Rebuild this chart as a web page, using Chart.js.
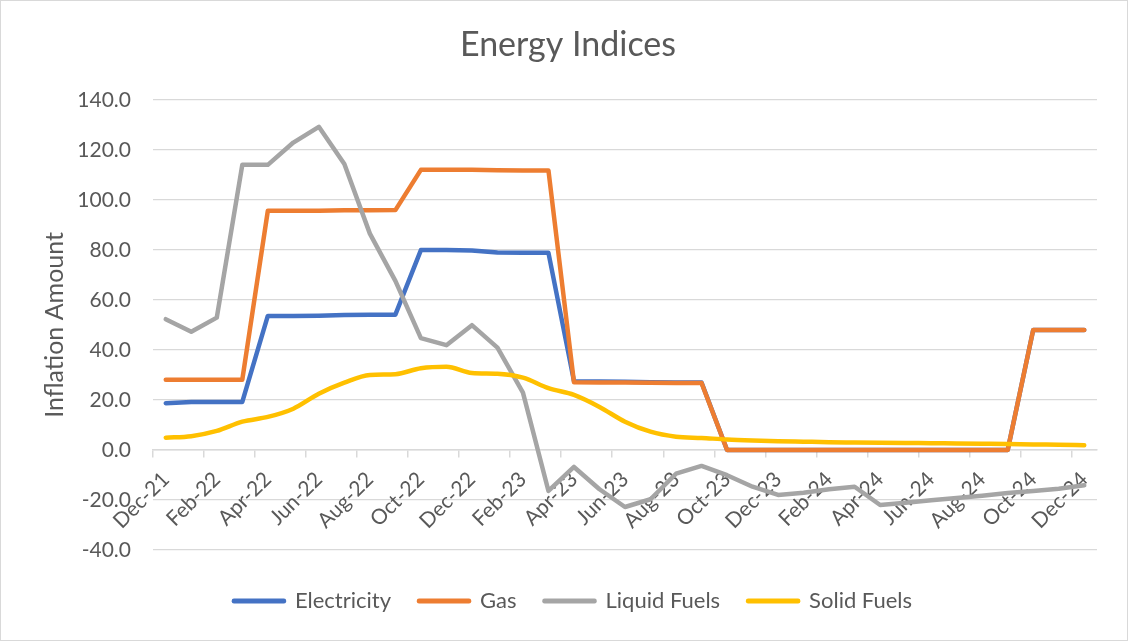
<!DOCTYPE html>
<html><head><meta charset="utf-8">
<script src="https://cdn.jsdelivr.net/npm/chart.js@4"></script>
<style>
html,body{margin:0;padding:0;background:#fff;}
#wrap{width:1128px;height:641px;box-sizing:border-box;border:1px solid #d9d9d9;background:#fff;}
canvas{display:block;}
</style></head><body>
<div id="wrap"><canvas id="c" width="1126" height="639"></canvas></div>
<script>
const months = ["Dec-21","Jan-22","Feb-22","Mar-22","Apr-22","May-22","Jun-22","Jul-22","Aug-22","Sep-22","Oct-22","Nov-22",
  "Dec-22","Jan-23","Feb-23","Mar-23","Apr-23","May-23","Jun-23","Jul-23","Aug-23","Sep-23","Oct-23","Nov-23",
  "Dec-23","Jan-24","Feb-24","Mar-24","Apr-24","May-24","Jun-24","Jul-24","Aug-24","Sep-24","Oct-24","Nov-24","Dec-24"];
const electricity = [18.7,19.2,19.2,19.2,53.6,53.6,53.7,54.0,54.1,54.1,79.9,79.9,79.7,78.9,78.8,78.8,
  27.5,27.4,27.3,27.1,27.0,27.0,0,0,0,0,0,0,0,0,0,0,0,0,48.0,48.0,48.0];
const gas = [28.1,28.1,28.1,28.1,95.6,95.6,95.6,95.8,95.8,95.9,112.0,112.0,112.0,111.8,111.7,111.7,
  27.1,27.0,27.0,26.9,26.8,26.8,0,0,0,0,0,0,0,0,0,0,0,0,48.0,48.0,48.0];
const liquidFuels = [52.3,47.3,52.9,114.0,114.0,122.9,129.2,114.3,86.5,67.6,44.7,41.9,49.9,40.9,22.9,-16.4,
  -6.8,-15.7,-22.8,-19.7,-9.5,-6.4,-10.1,-14.7,-18.0,-17.1,-15.7,-14.7,-22.0,-21.1,-20.1,-19.2,-18.3,-17.2,-16.4,-15.5,-14.1];
const solidFuels = [4.9,5.5,7.6,11.3,13.2,16.5,22.5,26.9,30.0,30.3,32.7,33.3,30.8,30.5,28.9,24.7,
  22.0,17.2,11.3,7.3,5.3,4.8,4.2,3.8,3.5,3.3,3.1,3.0,2.9,2.8,2.7,2.6,2.5,2.4,2.2,2.1,1.9];
const yMin = -40, yMax = 140, yStep = 20;

const FONT = "Lato, 'Open Sans', sans-serif";
const GREY = '#595959';
const GRID = '#d9d9d9';

function ds(label, data, color, order, smooth) {
  return {
    label, data, borderColor: color, backgroundColor: color, borderWidth: 4.5,
    pointRadius: 0, pointHoverRadius: 0, borderCapStyle: 'round', borderJoinStyle: 'round',
    tension: smooth ? 0.35 : 0, cubicInterpolationMode: smooth ? 'monotone' : 'default',
    order, fill: false
  };
}

const shiftLegend = {
  id: 'shiftLegend',
  afterLayout(chart) {
    if (chart.legend) { chart.legend.left += 5; chart.legend.right += 5; }
  }
};

new Chart(document.getElementById('c'), {
  type: 'line',
  plugins: [shiftLegend],
  data: {
    labels: months,
    datasets: [
      ds('Electricity', electricity, '#4472C4', 4, false),
      ds('Gas', gas, '#ED7D31', 3, false),
      ds('Liquid Fuels', liquidFuels, '#A5A5A5', 2, false),
      ds('Solid Fuels', solidFuels, '#FFC000', 1, true)
    ]
  },
  options: {
    responsive: false,
    animation: false,
    devicePixelRatio: 1,
    layout: { padding: { left: 8, right: 0, top: 0, bottom: 18 } },
    plugins: {
      tooltip: { enabled: false },
      title: {
        display: true, text: 'Energy Indices', color: GREY,
        font: { family: FONT, size: 34, weight: 'normal' },
        padding: { top: 24, bottom: 34 }
      },
      subtitle: {
        display: true, text: ' ', position: 'bottom', weight: 500,
        font: { size: 1, lineHeight: 1 }, padding: { top: 11, bottom: 0 }
      },
      legend: {
        position: 'bottom',
        labels: {
          color: GREY, font: { family: FONT, size: 22 },
          boxWidth: 50, boxHeight: 0.5, padding: 28,
          sort: (a, b) => a.datasetIndex - b.datasetIndex
        }
      }
    },
    scales: {
      y: {
        min: yMin, max: yMax,
        border: { display: false },
        grid: { color: GRID, lineWidth: 1.3, drawTicks: false },
        ticks: { stepSize: yStep, padding: 22, color: GREY, font: { family: FONT, size: 21 },
          callback: v => Number(v).toFixed(1) },
        title: { display: true, text: 'Inflation Amount', color: GREY,
          font: { family: FONT, size: 25 }, padding: { top: 31, bottom: 0 } },
        afterFit: s => { s.width = 144; }
      },
      y2: {
        position: 'right', min: yMin, max: yMax,
        border: { display: false },
        grid: { drawOnChartArea: false, drawTicks: false },
        ticks: { display: false },
        afterFit: s => { s.width = 30; }
      },
      x: {
        position: { y: 0 },
        offset: true,
        grid: { offset: true, drawOnChartArea: false, drawTicks: true, tickLength: 7, lineWidth: 1.5,
          color: c => (c.index % 2 === 0 ? GRID : 'rgba(0,0,0,0)') },
        border: { display: true, color: GRID, width: 1.5 },
        ticks: { autoSkip: false, maxRotation: 45, minRotation: 45, padding: 10, color: GREY,
          font: { family: FONT, size: 21 },
          callback: function (v, i) { return i % 2 === 0 ? this.getLabelForValue(v) : ''; } }
      }
    }
  }
});
</script>
</body></html>
